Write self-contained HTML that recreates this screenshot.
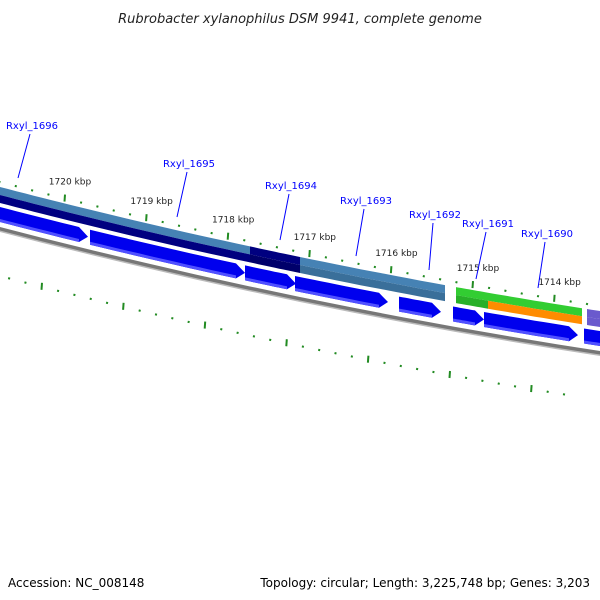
<!DOCTYPE html>
<html><head><meta charset="utf-8">
<style>
html,body{margin:0;padding:0;background:#fff;}
svg{display:block;font-family:"DejaVu Sans","Liberation Sans",sans-serif;}
</style></head>
<body>
<svg id="map" width="600" height="600" viewBox="0 0 600 600">
<text x="300" y="23" text-anchor="middle" font-size="13" font-style="italic" fill="#222">Rubrobacter xylanophilus DSM 9941, complete genome</text>
<text x="8" y="587" font-size="12" fill="#000">Accession: NC_008148</text>
<text x="590" y="587" font-size="12" fill="#000" text-anchor="end">Topology: circular; Length: 3,225,748 bp; Genes: 3,203</text>
<g id="layers"></g>
</svg>
<script>
// data
const kbpTicks = [1720, 1719, 1718, 1717, 1716, 1715, 1714];
const geneNames = ["Rxyl_1696","Rxyl_1695","Rxyl_1694","Rxyl_1693","Rxyl_1692","Rxyl_1691","Rxyl_1690"];
const geneStartsX = [0, 90, 245, 295, 399, 453, 484, 584];
const geneEndsX   = [88, 245, 296, 388, 441, 484, 578, 640];

const NS = "http://www.w3.org/2000/svg";
const g = document.getElementById("layers");
// axis: kbp -> x
function xOfKbp(k){ return 65 + (1720 - k) * 81.6; }
// baseline curve
function yBase(x){ return 228 + 0.26 * x - 0.0000889 * x * x; }
function mk(tag, attrs){ const e = document.createElementNS(NS, tag); for (const k in attrs) e.setAttribute(k, attrs[k]); g.appendChild(e); return e; }
function band(x0, x1, o0, o1){
  let d = "", n = 12;
  for (let i = 0; i <= n; i++){ const x = x0 + (x1 - x0) * i / n; d += (i ? "L" : "M") + x.toFixed(1) + "," + (yBase(x) + o0).toFixed(1); }
  for (let i = n; i >= 0; i--){ const x = x0 + (x1 - x0) * i / n; d += "L" + x.toFixed(1) + "," + (yBase(x) + o1).toFixed(1); }
  return d + "Z";
}
function arrow(x0, x1, o0, o1){
  const tip = Math.max(x0, x1 - 9), mid = (o0 + o1) / 2;
  let d = "", n = 10;
  for (let i = 0; i <= n; i++){ const x = x0 + (tip - x0) * i / n; d += (i ? "L" : "M") + x.toFixed(1) + "," + (yBase(x) + o0).toFixed(1); }
  d += "L" + x1 + "," + (yBase(x1) + mid).toFixed(1);
  for (let i = n; i >= 0; i--){ const x = x0 + (tip - x0) * i / n; d += "L" + x.toFixed(1) + "," + (yBase(x) + o1).toFixed(1); }
  return d + "Z";
}

// backbone
let el = mk("path", {d: band(-10, 610, 1, 4), fill: "#bbb"});


el = mk("path", {d: band(-10, 610, -1, 2.5), fill: "#777"});



// CDS arrows
for (let i = 0; i < geneStartsX.length; i++){
  let a = mk("path", {d: arrow(geneStartsX[i], geneEndsX[i], -21, -6), fill: "#0000ee"});
  
  
  let h = mk("path", {d: band(geneStartsX[i], Math.max(geneStartsX[i], geneEndsX[i] - 9), -9, -6), fill: "#5050ff"});
  
  
}

// upper feature row (segments: x0,x1,topColor,bottomColor)
const upper = [[-10,95,"#4682b4","#000080"],[95,250,"#4682b4","#000080"],[250,300,"#000080","#00006a"],[300,445,"#4682b4","#3a6f9a"],[456,488,"#32cd32","#28b028"],[488,582,"#32cd32","#ff8c00"],[587,640,"#6a5acd","#6a5acd"]];
upper.forEach(s => {
  let t = mk("path", {d: band(s[0], s[1], -41, -33), fill: s[2]});
  
  
  let b = mk("path", {d: band(s[0], s[1], -33, -25), fill: s[3]});
  
  
});

// tick rows
for (let k = 1721.2; k >= 1713.4; k -= 0.2){
  const x = xOfKbp(k), major = Math.abs(k - Math.round(k)) < 0.01;
  const yu = yBase(x) - 46, yl = yBase(x + 23) + 48;
  let t = mk("line", {x1: x, y1: yu - (major ? 4 : 1), x2: x - 0.5, y2: yu + (major ? 3 : 1), stroke: "#228b22", "stroke-width": 2});
  
  
  const xl = x - 23;
  let l = mk("line", {x1: xl, y1: yBase(xl) + 48 - (major ? 4 : 1), x2: xl - 0.5, y2: yBase(xl) + 48 + (major ? 3 : 1), stroke: "#228b22", "stroke-width": 2});
  
  
}
kbpTicks.forEach(k => {
  const x = xOfKbp(k);
  let t = mk("text", {x: x + 5, y: yBase(x) - 60, "font-size": 9, fill: "#222", "text-anchor": "middle"});
  t.textContent = k + " kbp";
  
  
});

// gene labels
const labelX = [32, 189, 291, 366, 435, 488, 547];
const labelY = [129, 167, 189, 204, 218, 227, 237];
const lineEnd = [[18,178],[177,217],[280,240],[356,256],[429,270],[476,279],[538,288]];
geneNames.forEach((n, i) => {
  let l = mk("line", {x1: labelX[i] - 2, y1: labelY[i] + 5, x2: lineEnd[i][0], y2: lineEnd[i][1], stroke: "#0000ff", "stroke-width": 1});
  
  
  let t = mk("text", {x: labelX[i], y: labelY[i], "font-size": 10, fill: "#0000ff", "text-anchor": "middle"});
  t.textContent = n;
  
  
});
</script>
</body></html>
